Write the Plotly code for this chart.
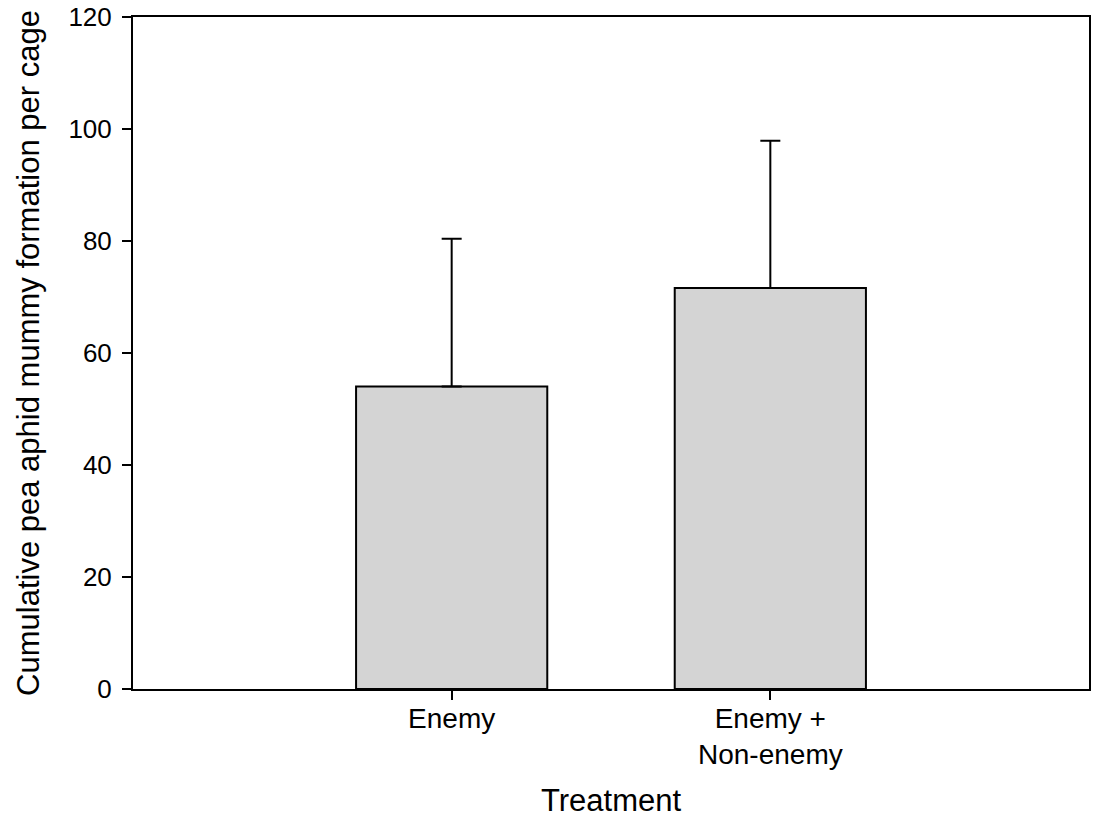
import plotly.graph_objects as go

categories = ["Enemy", "Enemy +<br>Non-enemy"]
means = [54.0, 71.6]
errors_up = [26.4, 26.3]
y_ticks = [0, 20, 40, 60, 80, 100, 120]

FONT = "Liberation Sans, Arial, Helvetica, sans-serif"

fig = go.Figure()
fig.add_trace(go.Bar(
    x=categories,
    y=means,
    width=0.6,
    marker=dict(color="#d4d4d4", line=dict(color="black", width=2)),
    error_y=dict(type="data", symmetric=False, array=errors_up,
                 arrayminus=[0] * len(errors_up),
                 color="black", thickness=2, width=10),
    showlegend=False,
))

fig.update_layout(
    width=1096, height=818,
    margin=dict(l=133, r=7, t=17, b=129),
    paper_bgcolor="white", plot_bgcolor="white",
    font=dict(family=FONT, color="black"),
    bargap=0.4,
)
fig.update_xaxes(
    type="category", range=[-1, 2], automargin=False,
    showline=True, linecolor="black", linewidth=2, mirror=True,
    ticks="outside", ticklen=9, tickwidth=2, tickcolor="black",
    tickfont=dict(size=28, family=FONT, color="black"),
    ticklabelstandoff=-6,
    showgrid=False, zeroline=False,
    title=dict(text="Treatment", font=dict(size=31, family=FONT, color="black"), standoff=27),
)
fig.update_yaxes(
    range=[0, 120], tickvals=y_ticks, ticktext=[str(v) for v in y_ticks],
    automargin=False,
    showline=True, linecolor="black", linewidth=2, mirror=True,
    ticks="outside", ticklen=9, tickwidth=2, tickcolor="black",
    tickfont=dict(size=26, family=FONT, color="black"),
    ticklabelstandoff=5,
    showgrid=False, zeroline=False,
    title=dict(text="Cumulative pea aphid mummy formation per cage",
               font=dict(size=31, family=FONT, color="black"), standoff=20),
)

fig.write_html("out.html")
